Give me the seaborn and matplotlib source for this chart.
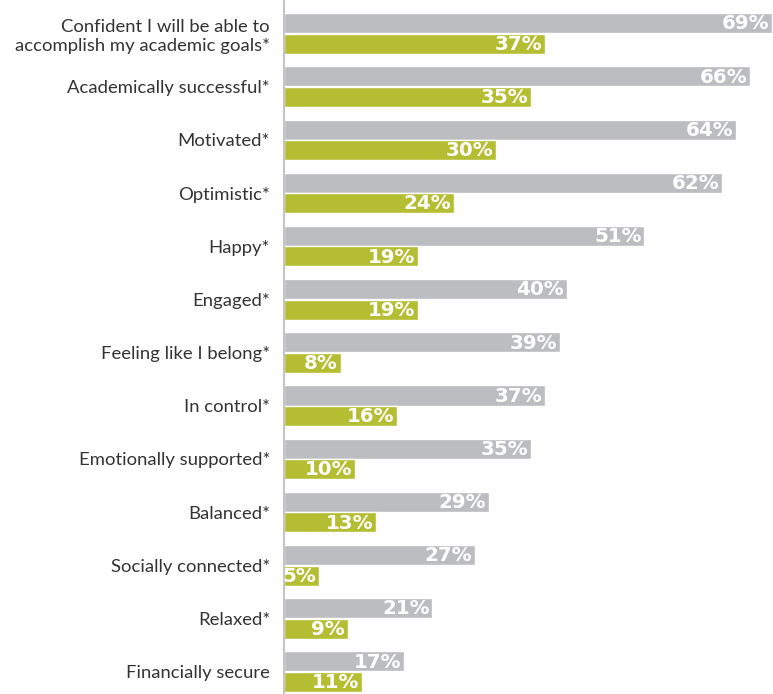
import pandas as pd
import numpy as np
import matplotlib.pyplot as plt
import seaborn as sns

categories = ["Confident I will be able to\naccomplish my academic goals*",
              "Academically successful*", "Motivated*", "Optimistic*", "Happy*",
              "Engaged*", "Feeling like I belong*", "In control*",
              "Emotionally supported*", "Balanced*", "Socially connected*",
              "Relaxed*", "Financially secure"]
grey_vals = [69, 66, 64, 62, 51, 40, 39, 37, 35, 29, 27, 21, 17]
green_vals = [37, 35, 30, 24, 19, 19, 8, 16, 10, 13, 5, 9, 11]
groups = ["Group A", "Group B"]

grey = "#bcbdc1"
green = "#b5be32"

df = pd.DataFrame({
    "cat": categories * 2,
    "val": grey_vals + green_vals,
    "group": [groups[0]] * len(categories) + [groups[1]] * len(categories),
})

sns.set_style("white")
plt.rcParams["font.family"] = ["Lato", "DejaVu Sans"]

fig = plt.figure(figsize=(7.73, 6.94), dpi=100)
ax = fig.add_axes([284 / 773, 0, 1 - 284 / 773, 1])

sns.barplot(data=df, y="cat", x="val", hue="group", orient="h",
            palette=[grey, green], saturation=1, width=0.77, gap=0.02,
            legend=False, ax=ax)

# value labels inside the bar ends
for cont in ax.containers:
    for bar, v in zip(cont, cont.datavalues):
        ax.annotate(f"{int(v)}%", (bar.get_width(), bar.get_y() + bar.get_height() / 2),
                    xytext=(-2, -0.5), textcoords="offset points",
                    ha="right", va="center", color="white",
                    fontsize=14.3, fontweight="bold", family="DejaVu Sans")

ax.set_xlim(0, 69.2)
ax.set_ylim(12.42, -0.63)
ax.set_xlabel("")
ax.set_ylabel("")
ax.set_xticks([])
ax.tick_params(axis="y", length=0, pad=10, labelsize=13.3, labelcolor="#333333")
for lbl in ax.get_yticklabels():
    lbl.set_horizontalalignment("right")
    lbl.set_multialignment("right")
for s in ["top", "right", "bottom"]:
    ax.spines[s].set_visible(False)
ax.spines["left"].set_color("#c4c4c4")
ax.spines["left"].set_linewidth(1.5)

fig.savefig("out.png", dpi=100)
